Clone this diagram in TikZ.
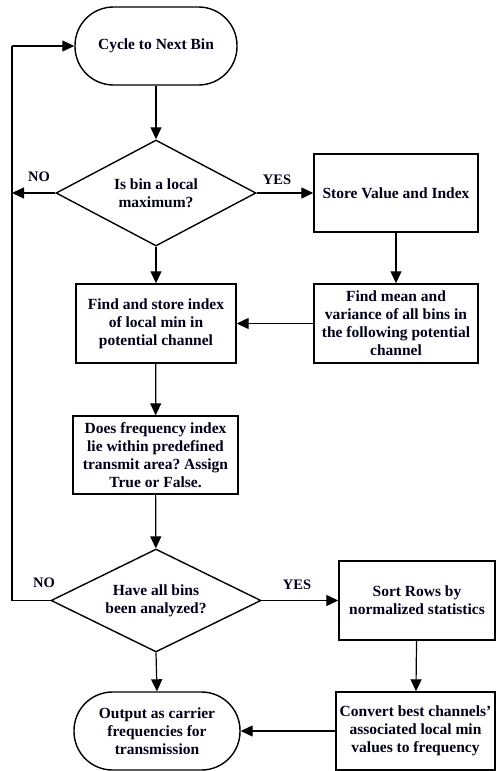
\documentclass[tikz,border=0pt]{standalone}
\usepackage{fontspec}
\setmainfont{Liberation Serif}
\usetikzlibrary{arrows.meta,shapes.geometric}
\frenchspacing
\begin{document}
\begin{tikzpicture}[x=1pt,y=-1pt,
  every node/.style={font=\bfseries\fontsize{15.5}{18}\selectfont, align=center, text=black!90!blue},
  proc/.style={draw, line width=1.4pt, rectangle, inner sep=0pt},
  term/.style={draw, line width=1.4pt, rectangle, rounded corners=38.5pt, inner sep=0pt, minimum width=162pt, minimum height=78pt},
  dec/.style={draw, line width=1.4pt, diamond, inner sep=0pt, aspect=2},
  lbl/.style={font=\bfseries\fontsize{14.5}{16}\selectfont},
  conn/.style={line width=1.2pt, -{Triangle[length=12pt,width=11pt]}},
  plain/.style={line width=1.2pt}
]
\useasboundingbox (0,0) rectangle (497,771);
\node[term] (cycle) at (156,46) {Cycle to Next Bin};
\node[dec, minimum width=200pt, minimum height=106pt] (d1) at (156,193) {Is bin a local\\maximum?};
\node[proc, minimum width=164pt, minimum height=78pt] (store) at (396,193) {Store Value and Index};
\node[proc, minimum width=164pt, minimum height=79pt] (mean) at (396,323.5) {Find mean and\\variance of all bins in\\the following potential\\channel};
\node[proc, minimum width=160pt, minimum height=79pt] (findmin) at (156,323.5) {Find and store index\\of local min in\\potential channel};
\node[proc, minimum width=165pt, minimum height=78pt] (does) at (155.5,455) {Does frequency index\\lie within predefined\\transmit area? Assign\\True or False.};
\node[dec, minimum width=210pt, minimum height=103pt] (d2) at (156,600.5) {Have all bins\\been analyzed?};
\node[proc, minimum width=156pt, minimum height=79pt] (sort) at (417,600.5) {Sort Rows by\\normalized statistics};
\node[proc, minimum width=159pt, minimum height=78pt] (conv) at (415.5,731) {Convert best channels'\\associated local min\\values to frequency};
\node[term, minimum width=166pt, minimum height=78pt] (out) at (157,731) {Output as carrier\\frequencies for\\transmission};

\coordinate (left1) at (12,193);
\coordinate (left2) at (12,600.5);
\coordinate (leftTop) at (12,46);

\node[lbl] (no1) at (39,177) {NO};
\node[lbl] (yes1) at (277,180) {YES};
\node[lbl] (no2) at (44,583) {NO};
\node[lbl] (yes2) at (297,585) {YES};

\draw[conn] (cycle) -- (d1);
\draw[conn] (d1.west) -- (left1);
\draw[conn] (d1.east) -- (store.west);
\draw[conn] (store) -- (mean);
\draw[conn] (mean.west) -- (findmin.east);
\draw[conn] (d1.south) -- (findmin.north);
\draw[conn] (findmin) -- (does);
\draw[conn] (does) -- (d2);
\draw[plain] (d2.west) -- (left2) -- (leftTop);
\draw[conn] (leftTop) -- (cycle.west);
\draw[conn] (d2.east) -- (sort.west);
\draw[conn] (sort) -- (conv);
\draw[conn] (d2.south) -- (out.north);
\draw[conn] (conv.west) -- (out.east);
\end{tikzpicture}
\end{document}
